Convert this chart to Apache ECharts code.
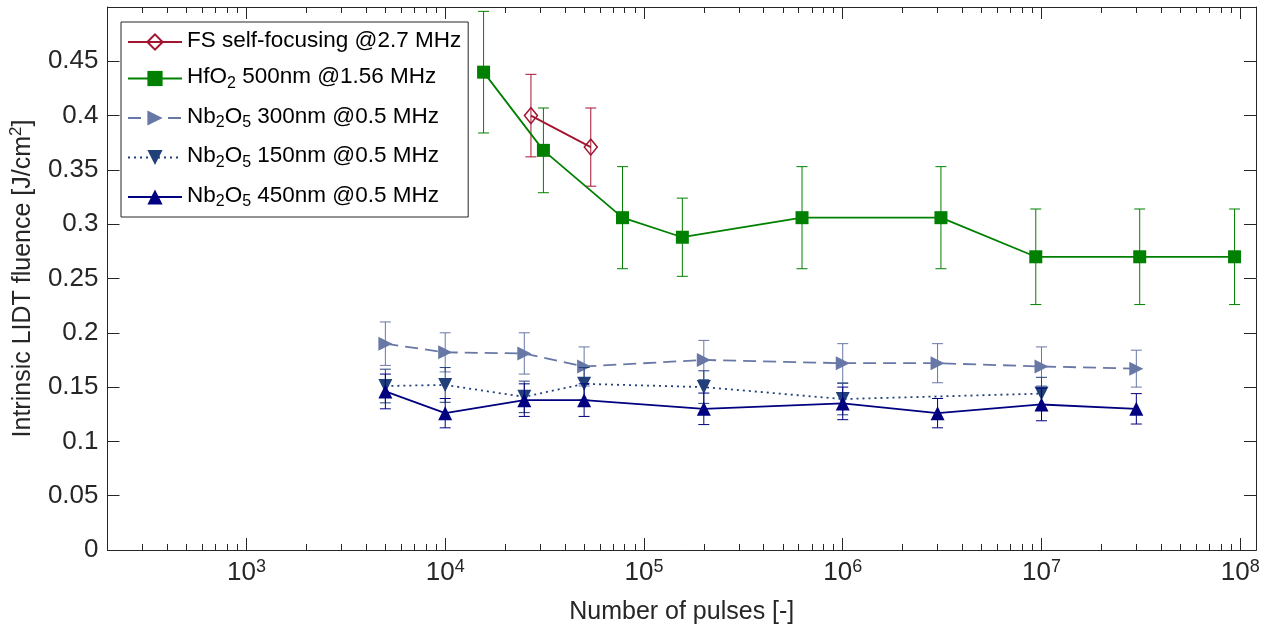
<!DOCTYPE html>
<html><head><meta charset="utf-8">
<script src="https://cdn.jsdelivr.net/npm/echarts@6/dist/echarts.min.js"></script>
<style>html,body{margin:0;padding:0;background:#fff}#c{width:1270px;height:634px}</style>
</head><body><div id="c"></div>
<script>
// ---------- data ----------
const seriesNames = [
  'FS self-focusing @2.7 MHz',
  'HfO2 500nm @1.56 MHz',
  'Nb2O5 300nm @0.5 MHz',
  'Nb2O5 150nm @0.5 MHz',
  'Nb2O5 450nm @0.5 MHz'
];
const fsX = [27000, 54000];
const fsY = [0.400, 0.371];
const fsErr = [0.038, 0.036];

const hfX = [15600, 31200, 78000, 156000, 624000, 3120000, 9360000, 31200000, 93600000];
const hfY = [0.440, 0.368, 0.306, 0.288, 0.306, 0.306, 0.270, 0.270, 0.270];
const hfErr = [0.056, 0.039, 0.047, 0.036, 0.047, 0.047, 0.044, 0.044, 0.044];

const nb300X = [5000, 10000, 25000, 50000, 200000, 1000000, 3000000, 10000000, 30000000];
const nb300Y = [0.190, 0.182, 0.181, 0.169, 0.175, 0.172, 0.172, 0.169, 0.167];
const nb300Err = [0.020, 0.018, 0.019, 0.018, 0.018, 0.018, 0.018, 0.018, 0.017];

const nb150X = [5000, 10000, 25000, 50000, 200000, 1000000, 10000000];
const nb150Y = [0.151, 0.152, 0.141, 0.153, 0.150, 0.139, 0.144];
const nb150Err = [0.0155, 0.016, 0.0145, 0.015, 0.015, 0.0145, 0.015];

const nb450X = [5000, 10000, 25000, 50000, 200000, 1000000, 3000000, 10000000, 30000000];
const nb450Y = [0.146, 0.126, 0.138, 0.138, 0.130, 0.135, 0.126, 0.134, 0.130];
const nb450Err = [0.016, 0.0135, 0.015, 0.015, 0.0145, 0.015, 0.0135, 0.015, 0.014];

const xMajorTicks = [1e3, 1e4, 1e5, 1e6, 1e7, 1e8];
const xLabel = 'Number of pulses [-]';
const yLabelParts = ['Intrinsic LIDT fluence [J/cm', '2', ']'];

// ---------- styling ----------
const FONT = '"Liberation Sans", Arial, Helvetica, sans-serif';
const AX = '#262626';
const xMin = 200, xMax = 1.2e8;
const yMin = 0, yMax = 0.5, yStep = 0.05;

const minorX = [];
for (let k = 2; k <= 8; k++) {
  for (let m = 2; m <= 9; m++) {
    const v = m * Math.pow(10, k);
    if (v >= xMin && v <= xMax) minorX.push(v);
  }
}

function zip(xs, ys) { return xs.map((x, i) => [x, ys[i]]); }
function zip3(xs, ys, es) { return xs.map((x, i) => [x, ys[i], es[i]]); }

function errRender(color) {
  return function (params, api) {
    const x = api.value(0), y = api.value(1), e = api.value(2);
    const t = api.coord([x, y + e]);
    const b = api.coord([x, y - e]);
    const hw = 5.5;
    const st = { stroke: color, lineWidth: 1, fill: null };
    return {
      type: 'group', children: [
        { type: 'line', shape: { x1: t[0], y1: t[1], x2: b[0], y2: b[1] }, style: st },
        { type: 'line', shape: { x1: t[0] - hw, y1: t[1], x2: t[0] + hw, y2: t[1] }, style: st },
        { type: 'line', shape: { x1: b[0] - hw, y1: b[1], x2: b[0] + hw, y2: b[1] }, style: st }
      ]
    };
  };
}

function xAx(pos, ticks, len, withLabel) {
  const a = {
    type: 'log', logBase: 10, position: pos, min: xMin, max: xMax,
    axisLine: { show: true, onZero: false, lineStyle: { color: AX, width: 1 } },
    axisTick: { show: true, inside: true, length: len, customValues: ticks, lineStyle: { color: AX, width: 1 } },
    splitLine: { show: false }, minorTick: { show: false },
    axisLabel: { show: false }
  };
  if (withLabel) {
    a.axisLabel = {
      show: true, customValues: xMajorTicks, margin: 8,
      formatter: v => '{b|10}{s|' + Math.round(Math.log10(v)) + '}',
      rich: {
        b: { fontFamily: FONT, fontSize: 26, color: AX, lineHeight: 28, verticalAlign: 'bottom' },
        s: { fontFamily: FONT, fontSize: 18, color: AX, lineHeight: 18, padding: [0, 0, 19, 0], verticalAlign: 'top' }
      }
    };
    a.name = xLabel;
    a.nameLocation = 'middle';
    a.nameGap = 46;
    a.nameTextStyle = { fontFamily: FONT, fontSize: 25, color: AX };
  }
  return a;
}

const colors = ['#a2142f', '#008000', '#6878a6', '#21407a', '#000080'];

function legendFmt(name) {
  return '{m|' + name.replace(/([A-Za-z])(\d)/g, '$1}{s|$2}{m|') + '}';
}

const lineSeries = [
  { x: fsX, y: fsY, e: fsErr, symbol: 'diamond', size: [13, 16], rot: 0, type: 'solid', hollow: true },
  { x: hfX, y: hfY, e: hfErr, symbol: 'rect', size: 13, rot: 0, type: 'solid' },
  { x: nb300X, y: nb300Y, e: nb300Err, symbol: 'triangle', size: 14, rot: -90, type: [13, 7] },
  { x: nb150X, y: nb150Y, e: nb150Err, symbol: 'triangle', size: 14, rot: 180, type: [2, 4] },
  { x: nb450X, y: nb450Y, e: nb450Err, symbol: 'triangle', size: 14, rot: 0, type: 'solid' }
];

const series = [];
lineSeries.forEach((s, i) => {
  const c = colors[i];
  series.push({
    name: 'err' + i, type: 'custom', xAxisIndex: 0, yAxisIndex: 0,
    data: zip3(s.x, s.y, s.e), encode: { x: 0, y: 1 },
    renderItem: errRender(c), silent: true, z: 2 + i * 2
  });
  series.push({
    name: seriesNames[i], type: 'line', xAxisIndex: 0, yAxisIndex: 0,
    data: zip(s.x, s.y), symbol: s.symbol, symbolSize: s.size, symbolRotate: s.rot,
    showAllSymbol: true,
    lineStyle: { color: c, width: 1.8, type: s.type },
    itemStyle: s.hollow ? { color: 'rgba(255,255,255,0)', borderColor: c, borderWidth: 1.5 } : { color: c, borderWidth: 0 },
    z: 3 + i * 2
  });
});

const chart = echarts.init(document.getElementById('c'), null, { renderer: 'canvas' });
chart.setOption({
  animation: false,
  backgroundColor: '#fff',
  grid: { left: 105, right: 14, top: 7, bottom: 84, containLabel: false },
  xAxis: [
    xAx('bottom', xMajorTicks, 12, true),
    xAx('bottom', minorX, 6, false),
    xAx('top', xMajorTicks, 12, false),
    xAx('top', minorX, 6, false)
  ],
  yAxis: [
    {
      type: 'value', position: 'left', min: yMin, max: yMax, interval: yStep,
      axisLine: { show: true, onZero: false, lineStyle: { color: AX, width: 1 } },
      axisTick: { show: true, inside: true, length: 12, lineStyle: { color: AX, width: 1 } },
      axisLabel: { showMaxLabel: false, fontFamily: FONT, fontSize: 26, color: AX, margin: 9 },
      splitLine: { show: false },
      name: '{m|' + yLabelParts[0] + '}{p|' + yLabelParts[1] + '}{m|' + yLabelParts[2] + '}',
      nameLocation: 'middle', nameGap: 56,
      nameTextStyle: {
        rich: {
          m: { fontFamily: FONT, fontSize: 25, color: AX, lineHeight: 28, verticalAlign: 'bottom' },
          p: { fontFamily: FONT, fontSize: 17, color: AX, lineHeight: 17, padding: [0, 0, 12, 0], verticalAlign: 'top' }
        }
      }
    },
    {
      type: 'value', position: 'right', min: yMin, max: yMax, interval: yStep,
      axisLine: { show: true, onZero: false, lineStyle: { color: AX, width: 1 } },
      axisTick: { show: true, inside: true, length: 12, lineStyle: { color: AX, width: 1 } },
      axisLabel: { show: false }, splitLine: { show: false }
    }
  ],
  legend: {
    orient: 'vertical', left: 121, top: 22, padding: [7, 7, 7, 6],
    itemGap: 6.5, itemWidth: 54, itemHeight: 19,
    borderColor: AX, borderWidth: 1, borderRadius: 0, backgroundColor: '#fff',
    data: seriesNames, formatter: legendFmt,
    textStyle: {
      fontFamily: FONT, fontSize: 22.5, color: '#000',
      rich: {
        m: { fontFamily: FONT, fontSize: 22.5, color: '#000', lineHeight: 26, verticalAlign: 'top' },
        s: { fontFamily: FONT, fontSize: 16, color: '#000', lineHeight: 16, padding: [17, 0, 0, 0], verticalAlign: 'bottom' }
      }
    }
  },
  series: series
});
</script>
</body></html>
